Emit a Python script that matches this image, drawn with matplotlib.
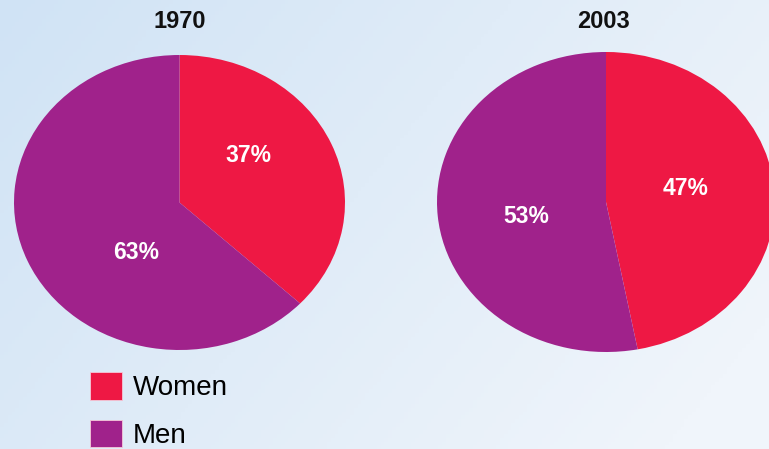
import numpy as np
import matplotlib
matplotlib.use("Agg")
import matplotlib.pyplot as plt

# ---- data ----
years = ["1970", "2003"]
categories = ["Women", "Men"]
women = [37, 47]
men = [63, 53]
colors = ["#EE1844", "#A0228B"]

W, H = 769, 449
fig = plt.figure(figsize=(W / 100, H / 100), dpi=100)

# background gradient
bg = fig.add_axes([0, 0, 1, 1], zorder=-10)
xx, yy = np.meshgrid(np.linspace(0, 1, 200), np.linspace(0, 1, 120))
t = np.clip(0.75 * xx + 0.35 * yy, 0, 1)
c0 = np.array([208, 227, 245]) / 255
c1 = np.array([240, 245, 251]) / 255
img = c0[None, None, :] * (1 - t[..., None]) + c1[None, None, :] * t[..., None]
bg.imshow(img, aspect="auto", extent=[0, 1, 0, 1], origin="upper")
bg.set_axis_off()

fam = ["Liberation Sans", "DejaVu Sans"]

# pie boxes in pixels: (left, top, right, bottom)
boxes = [(14, 55, 345, 350), (437, 52, 775, 352)]
title_x = [180, 604]
label_pos = [[(0.415, 0.32), (-0.264, -0.336)],
             [(0.473, 0.093), (-0.473, -0.10)]]

wedges_all = []
for i, yr in enumerate(years):
    l, tp, r, b = boxes[i]
    ax = fig.add_axes([l / W, 1 - b / H, (r - l) / W, (b - tp) / H])
    vals = [women[i], men[i]]
    wedges, texts, autotexts = ax.pie(
        vals, colors=colors, startangle=90, counterclock=False,
        autopct=lambda p: f"{p:.0f}%", radius=1.0,
        wedgeprops=dict(linewidth=0, antialiased=True),
        textprops=dict(color="white", fontweight="bold", fontsize=16.5, family=fam))
    for at, pos in zip(autotexts, label_pos[i]):
        at.set_position(pos)
        at.set_ha("center")
        at.set_va("center")
    ax.set_aspect("auto")
    ax.set_xlim(-1, 1)
    ax.set_ylim(-1, 1)
    ax.set_axis_off()
    wedges_all.append(wedges)
    fig.text(title_x[i] / W, 1 - 22 / H, yr, ha="center", va="center",
             fontsize=17, fontweight="bold", family=fam, color="#111111")

leg = fig.legend(wedges_all[0], categories, loc="upper left",
                 bbox_to_anchor=(90 / W, 1 - 372 / H), borderaxespad=0, borderpad=0,
                 frameon=False, handleheight=1.15, handlelength=1.15,
                 labelspacing=0.66, handletextpad=0.4,
                 prop=dict(family=fam, size=20))
for h in leg.legend_handles:
    h.set_edgecolor("#f4c8d8")
    h.set_linewidth(0.6)

fig.savefig("out.png", dpi=100)
